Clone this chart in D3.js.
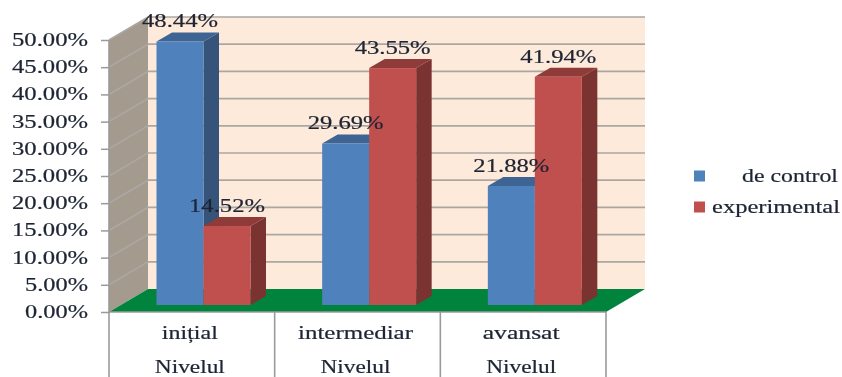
<!DOCTYPE html>
<html><head><meta charset="utf-8">
<script src="https://cdn.jsdelivr.net/npm/d3@7"></script>
<style>html,body{margin:0;padding:0;background:#fff;overflow:hidden}svg{display:block;filter:blur(0.5px)}text{font-family:"Liberation Serif",serif;fill:#1d2433;stroke:#1d2433;stroke-width:0.2px}</style>
</head><body><svg id="c" width="842" height="377"></svg>
<script>
const categories = ["inițial","intermediar","avansat"];
const groupLabels = ["Nivelul","Nivelul","Nivelul"];
const seriesNames = ["de control","experimental"];
const controlValues = [48.44,29.69,21.88];
const experimentalValues = [14.52,43.55,41.94];
const tickValues = [0,5,10,15,20,25,30,35,40,45,50];

const faces = [
 {front:"#4F81BD",side:"#36547A",top:"#3E6494"},
 {front:"#C0504D",side:"#7A3331",top:"#8F3B39"}];
const wall={dx:39,dy:-23}, barD={dx:15.5,dy:-9}, baseDy=-7;
const svg=d3.select("#c");
const y=d3.scaleLinear().domain([0,50]).range([312,40]);
const x=d3.scaleBand().domain(categories).range([109,606]);
const inner=d3.scaleBand().domain(seriesNames).range([47.5,141.5]);
const stretch=(sel,w)=>sel.each(function(d,i){
  const target=typeof w==="function"?w.call(this,d,i):w;
  const f=target/this.getComputedTextLength();
  const tx=+this.getAttribute("x")||0, ty=+this.getAttribute("y")||0;
  this.setAttribute("x",0);this.setAttribute("y",0);this.removeAttribute("dy");
  this.setAttribute("transform",`translate(${tx},${ty}) scale(${f},1)`);
});
const pts=a=>a.map(p=>p.join(",")).join(" ");
const [x0,x1]=x.range();

// walls
svg.append("polygon").attr("fill","#FEEADB").attr("points",pts([[x0+wall.dx,y(50)+wall.dy],[x1+wall.dx,y(50)+wall.dy],[x1+wall.dx,y(0)+wall.dy],[x0+wall.dx,y(0)+wall.dy]]));
svg.append("polygon").attr("fill","#A59A8E").attr("points",pts([[x0,y(50)],[x0+wall.dx,y(50)+wall.dy],[x0+wall.dx,y(0)+wall.dy],[x0,y(0)]]));
// gridlines
const grid=svg.append("g").attr("stroke","#ABA7A2").attr("fill","none").attr("stroke-width",1.7);
tickValues.filter(d=>d>0).forEach(d=>{
  grid.append("polyline").attr("points",pts([[x0,y(d)],[x0+wall.dx,y(d)+wall.dy],[x1+wall.dx,y(d)+wall.dy]]));
});
// floor
svg.append("polygon").attr("fill","#00843D").attr("points",pts([[x0,y(0)],[x1,y(0)],[x1+wall.dx,y(0)+wall.dy],[x0+wall.dx,y(0)+wall.dy]]));

// bars
const rows=[controlValues,experimentalValues];
const labels=[];
rows.forEach((vals,s)=>{
  const g=svg.append("g");
  vals.forEach((v,i)=>{
    const l=x(categories[i])+inner(seriesNames[s]), r=l+inner.bandwidth();
    const b=y(0)+baseDy, t=y(v)+baseDy;
    g.append("polygon").attr("fill",faces[s].side).attr("points",pts([[r,t],[r+barD.dx,t+barD.dy],[r+barD.dx,b+barD.dy],[r,b]]));
    g.append("polygon").attr("fill",faces[s].top).attr("points",pts([[l,t],[l+barD.dx,t+barD.dy],[r+barD.dx,t+barD.dy],[r,t]]));
    g.append("rect").attr("x",l).attr("y",t).attr("width",r-l).attr("height",b-t).attr("fill",faces[s].front);
    labels.push({v,x:(l+r)/2,y:t-14});
  });
});
// value labels
svg.append("g").selectAll("text").data(labels).join("text")
  .attr("x",d=>d.x).attr("y",d=>d.y).attr("text-anchor","middle").attr("font-size",18)
  .text(d=>d.v.toFixed(2)+"%").call(stretch,76);

// y axis
const ya=svg.append("g").attr("transform",`translate(${x0},0)`)
  .call(d3.axisLeft(y).tickValues(tickValues).tickFormat(d=>d.toFixed(2)+"%").tickSize(8).tickPadding(13));
ya.selectAll("path,line").attr("stroke","#9A9A9A").attr("stroke-width",1.5);
ya.select("path").remove();
ya.selectAll("text").attr("font-size",18).attr("y",5.5).attr("font-family",'"Liberation Serif",serif')
  .call(stretch,d=>d<10?63:76);

// axis frame
const frame=svg.append("g").attr("stroke","#9A9A9A").attr("stroke-width",1.6);
frame.append("line").attr("x1",x0).attr("x2",x0).attr("y1",y(50)).attr("y2",377);
frame.append("line").attr("x1",x0).attr("x2",x1).attr("y1",y(0)).attr("y2",y(0));
categories.forEach(c=>frame.append("line").attr("x1",x(c)+x.bandwidth()).attr("x2",x(c)+x.bandwidth()).attr("y1",y(0)).attr("y2",377));

// category labels
const catW={"inițial":56,"intermediar":115,"avansat":77};
svg.append("g").selectAll("text").data(categories).join("text")
  .attr("x",d=>x(d)+x.bandwidth()/2-2).attr("y",339).attr("text-anchor","middle").attr("font-size",18)
  .text(d=>d).call(stretch,d=>catW[d]);
svg.append("g").selectAll("text").data(groupLabels).join("text")
  .attr("x",(d,i)=>x(categories[i])+x.bandwidth()/2-2).attr("y",373).attr("text-anchor","middle").attr("font-size",18)
  .text(d=>d).call(stretch,70);

// legend
const legY=d3.scalePoint().domain(seriesNames).range([176,207]);
const legEnd=[838,840], legW=[96,128];
seriesNames.forEach((n,i)=>{
  svg.append("rect").attr("x",694).attr("y",legY(n)-5.5).attr("width",11).attr("height",11).attr("fill",faces[i].front);
  svg.append("text").attr("x",legEnd[i]).attr("y",legY(n)+6).attr("text-anchor","end").attr("font-size",18).text(n).call(stretch,legW[i]);
});
</script></body></html>
